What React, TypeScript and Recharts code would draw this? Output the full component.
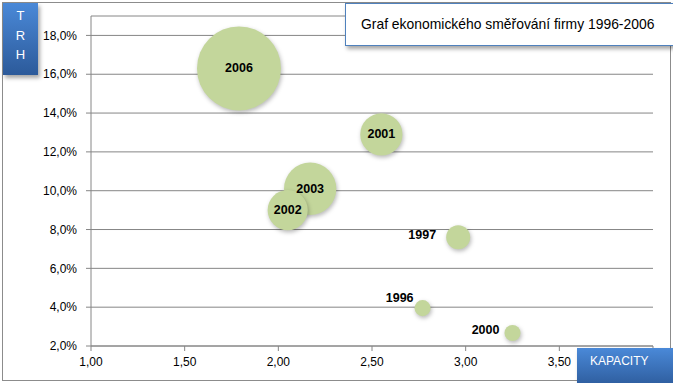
import React from "react";
import {
  ScatterChart,
  Scatter,
  XAxis,
  YAxis,
  ZAxis,
  CartesianGrid,
  LabelList,
} from "recharts";

// values
const years = ["1996", "1997", "2000", "2001", "2002", "2003", "2006"];
const capacity = [2.77, 2.96, 3.25, 2.55, 2.05, 2.17, 1.79];
const market = [3.95, 7.6, 2.67, 12.9, 9.0, 10.1, 16.3];
const bubbleSize = [0.9, 2.0, 0.9, 6.2, 5.6, 9.5, 24.5];

const xTicks = [1, 1.5, 2, 2.5, 3, 3.5, 4];
const yTicks = [2, 4, 6, 8, 10, 12, 14, 16, 18];

// bigger bubbles first so the small ones sit on top (like Excel)
const data = years
  .map((year, i) => ({
    year,
    x: capacity[i],
    y: market[i],
    z: bubbleSize[i],
  }))
  .sort((a, b) => b.z - a.z);

const BUBBLE = "#C3D69B";
const GRID = "#868686";
const FONT = "'Liberation Sans', Arial, sans-serif";

// labels of the small bubbles are drawn outside, to the left
const outside: Record<string, { dx: number; dy: number; fromEdge: boolean }> = {
  "1996": { dx: -9, dy: -10, fromEdge: false },
  "1997": { dx: -10, dy: -2, fromEdge: true },
  "2000": { dx: -5, dy: -3, fromEdge: true },
};

const Bubble = (props: any) => {
  const { cx, cy, width } = props;
  const r = (width ?? 0) / 2;
  return (
    <circle
      cx={cx}
      cy={cy}
      r={r}
      fill={BUBBLE}
      style={{ filter: "drop-shadow(1px 2px 2px rgba(0,0,0,0.28))" }}
    />
  );
};

const BubbleLabel = (props: any) => {
  const { x, y, width, height, value } = props;
  const cx = x + width / 2;
  const cy = y + height / 2;
  const r = width / 2;
  const o = outside[value];
  let tx = cx;
  let ty = cy;
  let anchor: "middle" | "end" = "middle";
  if (o) {
    tx = cx + o.dx - (o.fromEdge ? r : 0);
    ty = cy + o.dy;
    anchor = "end";
  }
  return (
    <text
      x={tx}
      y={ty}
      textAnchor={anchor}
      dominantBaseline="central"
      fontFamily={FONT}
      fontWeight="bold"
      fontSize={12.5}
      fill="#000"
    >
      {value}
    </text>
  );
};

const blueBox: React.CSSProperties = {
  position: "absolute",
  background: "linear-gradient(#4a89d8, #2c5a9a)",
  color: "#fff",
  fontFamily: FONT,
  boxShadow: "2px 3px 4px rgba(0,0,0,0.35)",
};

export default function App() {
  return (
    <div
      style={{
        position: "absolute",
        left: 0,
        top: 0,
        width: 673,
        height: 383,
        overflow: "hidden",
        background: "#fff",
      }}
    >
      <div
        style={{
          position: "absolute",
          left: 2,
          top: 2,
          width: 667,
          height: 377,
          border: "1px solid #8c8c8c",
        }}
      />
      <div style={{ position: "absolute", left: 0, top: 0 }}>
        <ScatterChart
          width={673}
          height={383}
          margin={{ top: 16, right: 20, bottom: 0, left: 0 }}
        >
          <CartesianGrid vertical={false} stroke={GRID} />
          <XAxis
            type="number"
            dataKey="x"
            domain={[1, 4]}
            ticks={xTicks}
            height={37}
            tickSize={5}
            tickMargin={6}
            stroke={GRID}
            tick={{ fill: "#000", fontSize: 12, fontFamily: FONT }}
            // the 4,00 label is hidden under the KAPACITY box
            tickFormatter={(v: number) =>
              v >= 4 ? "" : v.toFixed(2).replace(".", ",")
            }
          />
          <YAxis
            type="number"
            dataKey="y"
            domain={[2, 19]}
            ticks={yTicks}
            width={91}
            tickSize={5}
            tickMargin={9}
            stroke={GRID}
            tick={{ fill: "#000", fontSize: 12, fontFamily: FONT }}
            tickFormatter={(v: number) => v.toFixed(1).replace(".", ",") + "%"}
          />
          <ZAxis
            type="number"
            dataKey="z"
            domain={[0, 24.5]}
            range={[0, Math.PI * 42 * 42]}
          />
          <Scatter data={data} shape={<Bubble />} isAnimationActive={false}>
            <LabelList dataKey="year" content={<BubbleLabel />} />
          </Scatter>
        </ScatterChart>
      </div>

      <div
        style={{
          position: "absolute",
          left: 345,
          top: 3,
          width: 340,
          height: 41,
          background: "#fff",
          border: "1px solid #4f81bd",
          boxShadow: "2px 3px 4px rgba(0,0,0,0.35)",
          fontFamily: FONT,
          fontSize: 13.9,
          color: "#000",
          lineHeight: "41px",
          paddingLeft: 15,
          boxSizing: "content-box",
          whiteSpace: "nowrap",
        }}
      >
        Graf ekonomického směřování firmy 1996-2006
      </div>

      <div
        style={{
          ...blueBox,
          left: 3,
          top: 3,
          width: 35,
          height: 72,
          fontSize: 13,
          textAlign: "center",
          lineHeight: "19.5px",
          paddingTop: 3,
          boxSizing: "border-box",
        }}
      >
        T<br />R<br />H
      </div>

      <div
        style={{
          ...blueBox,
          left: 577,
          top: 348,
          width: 100,
          height: 40,
          fontSize: 12,
          paddingLeft: 13,
          paddingTop: 6,
          boxSizing: "border-box",
        }}
      >
        KAPACITY
      </div>
    </div>
  );
}
